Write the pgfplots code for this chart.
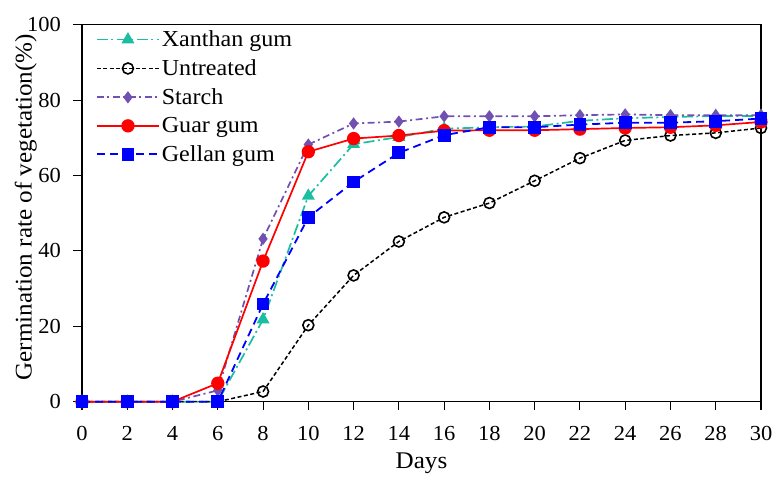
\documentclass[border=0pt]{standalone}
\usepackage{pgfplots}
\pgfplotsset{compat=1.18}
\usepackage{fontspec}
\setmainfont[FakeStretch=1.05]{Liberation Serif}
\definecolor{xan}{RGB}{26,190,160}
\definecolor{sta}{RGB}{112,80,176}
\begin{document}
\begin{tikzpicture}
\begin{axis}[
 scale only axis, width=679bp, height=377bp,
 xmin=0, xmax=30, ymin=0, ymax=100,
 xtick={0,2,...,30}, ytick={0,20,...,100},
 tick align=outside, xtick pos=bottom, ytick pos=left,
 major tick length=8.5bp,
 tick style={black, line width=1.1pt},
 axis line style={line width=1.2pt},
 /pgf/number format/assume math mode=true,
 ticklabel style={font=\fontsize{21.5}{25}\selectfont},
 xticklabel style={yshift=-13bp},
 yticklabel style={xshift=-9bp},
 xlabel={Days}, ylabel={Germination rate of vegetation(\%)},
 label style={font=\fontsize{24}{28}\selectfont},
 xlabel style={at={([yshift=-51bp]axis description cs:0.5,0)}, anchor=north, inner sep=0pt},
 ylabel style={at={([xshift=-45bp,yshift=6bp]axis description cs:0,0.5)}, anchor=south, inner sep=0pt},
 legend style={at={([yshift=-2bp]axis description cs:0.016,1)}, anchor=north west, draw=none, fill=none,
   font=\fontsize{23}{27}\selectfont, row sep=7.5bp},
 legend cell align=left,
 legend image code/.code={\draw[mark repeat=2,mark phase=2,#1] plot coordinates {(0bp,0bp) (31bp,0bp) (62bp,0bp)};},
 clip=false,
]
\addplot[color=xan, line width=1.7bp, dash pattern=on 11bp off 3.5bp on 2bp off 3.5bp, mark=triangle*, mark size=5.8bp, mark options={solid}]
 coordinates {(0,0)(2,0)(4,0)(6,0)(8,21.8)(10,54.6)(12,68.3)(14,70.2)(16,72.4)(18,72.8)(20,73.0)(22,74.5)(24,75.2)(26,75.5)(28,75.8)(30,75.8)};
\addlegendentry{Xanthan gum}
\addplot[color=black, line width=1.5bp, dash pattern=on 4bp off 2.5bp, mark=o, mark size=5.5bp, mark options={solid, fill=white, line width=1.6bp}]
 coordinates {(0,0)(2,0)(4,0)(6,0)(8,2.7)(10,20.3)(12,33.5)(14,42.5)(16,48.9)(18,52.7)(20,58.6)(22,64.6)(24,69.3)(26,70.6)(28,71.3)(30,72.6)};
\addlegendentry{Untreated}
\addplot[color=sta, line width=1.7bp, dash pattern=on 7bp off 3.5bp on 2bp off 3.5bp, mark=diamond*, mark size=4.8bp, mark options={solid}]
 coordinates {(0,0)(2,0)(4,0)(6,3.0)(8,43.2)(10,68.2)(12,73.8)(14,74.3)(16,75.7)(18,75.7)(20,75.7)(22,76.0)(24,76.2)(26,76.0)(28,76.0)(30,76.0)};
\addlegendentry{Starch}
\addplot[color=red, line width=1.7bp, solid, mark=*, mark size=5.8bp]
 coordinates {(0,0)(2,0)(4,0)(6,4.9)(8,37.3)(10,66.3)(12,69.8)(14,70.6)(16,71.9)(18,72.0)(20,72.0)(22,72.3)(24,72.6)(26,72.8)(28,73.3)(30,74.2)};
\addlegendentry{Guar gum}
\addplot[color=blue, line width=1.8bp, dash pattern=on 8bp off 5bp, mark=square*, mark size=5.5bp, mark options={solid}]
 coordinates {(0,0)(2,0)(4,0)(6,0)(8,25.9)(10,48.9)(12,58.3)(14,66.0)(16,70.7)(18,72.8)(20,72.8)(22,73.5)(24,74.0)(26,74.0)(28,74.4)(30,75.1)};
\addlegendentry{Gellan gum}
\coordinate (LL) at (rel axis cs:0,0);
\coordinate (UR) at (rel axis cs:1,1);
\end{axis}
\pgfresetboundingbox
\path[use as bounding box] ([shift={(-82bp,-83bp)}]LL) rectangle ([shift={(21bp,24.7bp)}]UR);
\end{tikzpicture}
\end{document}
